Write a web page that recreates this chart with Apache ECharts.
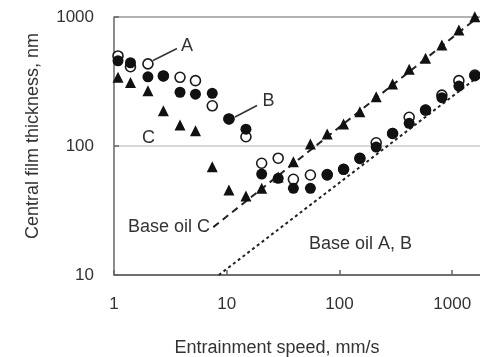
<!DOCTYPE html>
<html>
<head>
<meta charset="utf-8">
<script src="https://cdn.jsdelivr.net/npm/echarts@6/dist/echarts.min.js"></script>
<style>html,body{margin:0;padding:0;background:#fff;}#c{width:480px;height:357px;}</style>
</head>
<body>
<div id="c"></div>
<script>
// Entrainment speed (mm/s)
const speeds = [1.085, 1.40, 2.0, 2.74, 3.85, 5.28, 7.44, 10.46, 14.8, 20.4, 28.6, 39.0, 55.2, 77.8, 108.7, 151.7, 211.5, 295.7, 415, 580, 809, 1145, 1586];
// Central film thickness (nm)
const oilA = [499, 412, 433, 349, 341, 321, 205, 162, 118, 73.5, 80.4, 55.2, 59.6, 60, 66, 80, 106, 125, 167, 190, 248, 321, 355];
const oilB = [458, 442, 344, 349, 261, 252, 256, 162, 135, 60.6, 56.2, 47, 47, 59.6, 65.9, 80.7, 98.2, 125.4, 150, 190, 236.7, 291.5, 349];
const oilC = [341, 310, 268, 188, 145.5, 131.4, 69.1, 45.6, 41, 47, 57.5, 75.5, 103.6, 124, 148, 184.5, 241, 302, 393, 478.6, 607, 793, 1005];
// Base oil reference lines (endpoints)
const baseOilC = [[7.6, 23.5], [1700, 1000]];
const baseOilAB = [[8.5, 10], [2000, 385]];
const xTicks = [1, 10, 100, 1000];
const yTicks = [10, 100, 1000];

const pair = (xs, ys) => xs.map((x, i) => [x, ys[i]]);
const FONT = '"Liberation Sans", Arial, sans-serif';
const TXT = '#333';

const chart = echarts.init(document.getElementById('c'), null, {renderer: 'canvas'});
chart.setOption({
  animation: false,
  backgroundColor: '#fff',
  grid: {left: 114, top: 17, width: 451, height: 258, show: false, containLabel: false, outerBoundsMode: 'none'},
  xAxis: {
    type: 'log', logBase: 10, min: 1, max: 10000,
    axisLine: {show: true, lineStyle: {color: '#666', width: 1.5}},
    axisTick: {show: true, inside: true, length: 5, lineStyle: {color: '#666', width: 1.5}},
    axisLabel: {fontSize: 17, color: TXT, fontFamily: FONT, margin: 21,
      formatter: v => xTicks.includes(Math.round(v)) ? String(Math.round(v)) : ''},
    splitLine: {show: false}
  },
  yAxis: {
    type: 'log', logBase: 10, min: 10, max: 1000,
    axisLine: {show: true, lineStyle: {color: '#666', width: 1.5}},
    axisTick: {show: true, inside: true, length: 5, lineStyle: {color: '#666', width: 1.5}},
    axisLabel: {fontSize: 17, color: TXT, fontFamily: FONT, margin: 20,
      formatter: v => yTicks.includes(Math.round(v)) ? String(Math.round(v)) : ''},
    splitLine: {show: true, lineStyle: {color: ['#666', '#ccc', '#999'], width: 1.5}}
  },
  series: [
    {type: 'line', data: baseOilAB, symbol: 'none', lineStyle: {color: '#222', width: 2, type: [3, 3]}, z: 1},
    {type: 'line', data: baseOilC, symbol: 'none', lineStyle: {color: '#222', width: 2, type: [7, 5]}, z: 1},
    {type: 'scatter', name: 'A', data: pair(speeds, oilA), symbol: 'circle', symbolSize: 10, clip: false,
      itemStyle: {color: '#fff', borderColor: '#1a1a1a', borderWidth: 1.6, opacity: 1}, z: 2},
    {type: 'scatter', name: 'B', data: pair(speeds, oilB), symbol: 'circle', symbolSize: 11, clip: false,
      itemStyle: {color: '#111', opacity: 1}, z: 3},
    {type: 'scatter', name: 'C', data: pair(speeds, oilC), symbol: 'triangle', symbolSize: 11, clip: false,
      itemStyle: {color: '#111', opacity: 1}, z: 4}
  ],
  graphic: [
    {type: 'text', x: 277, y: 348, style: {text: 'Entrainment speed, mm/s', font: '18px ' + FONT, fill: TXT, align: 'center', verticalAlign: 'middle'}},
    {type: 'text', x: 33, y: 136, rotation: Math.PI / 2, style: {text: 'Central film thickness, nm', font: '18px ' + FONT, fill: TXT, align: 'center', verticalAlign: 'middle'}},
    {type: 'line', shape: {x1: 153, y1: 60.5, x2: 177, y2: 48.5}, style: {stroke: '#333', lineWidth: 1.5}},
    {type: 'text', x: 187, y: 46.5, style: {text: 'A', font: '18px ' + FONT, fill: TXT, align: 'center', verticalAlign: 'middle'}},
    {type: 'line', shape: {x1: 235, y1: 117, x2: 257, y2: 105.5}, style: {stroke: '#333', lineWidth: 1.5}},
    {type: 'text', x: 268.5, y: 101.5, style: {text: 'B', font: '18px ' + FONT, fill: TXT, align: 'center', verticalAlign: 'middle'}},
    {type: 'text', x: 148.5, y: 138.5, style: {text: 'C', font: '18px ' + FONT, fill: TXT, align: 'center', verticalAlign: 'middle'}},
    {type: 'text', x: 169, y: 227, style: {text: 'Base oil C', font: '18px ' + FONT, fill: TXT, align: 'center', verticalAlign: 'middle'}},
    {type: 'text', x: 360.5, y: 244, style: {text: 'Base oil A, B', font: '18px ' + FONT, fill: TXT, align: 'center', verticalAlign: 'middle'}}
  ]
});
</script>
</body>
</html>
